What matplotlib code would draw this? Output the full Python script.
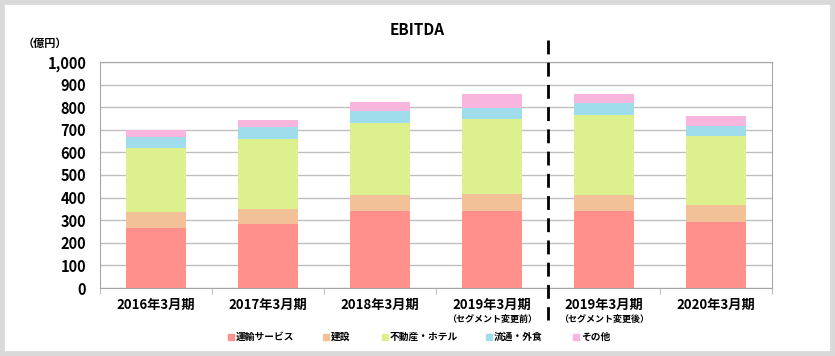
import matplotlib
matplotlib.use("Agg")
import matplotlib.pyplot as plt
from matplotlib.patches import Rectangle
import numpy as np

plt.rcParams['font.family'] = ['Noto Sans CJK JP', 'DejaVu Sans']

categories = ["2016年3月期", "2017年3月期", "2018年3月期", "2019年3月期", "2019年3月期", "2020年3月期"]
sublabels = ["", "", "", "（セグメント変更前）", "（セグメント変更後）", ""]
series_names = ["運輸サービス", "建設", "不動産・ホテル", "流通・外食", "その他"]
transport = [265, 283, 341, 341, 341, 292]
construction = [71, 67, 70, 75, 70, 75]
realestate = [283, 309, 319, 332, 354, 307]
retail = [48, 52, 52, 50, 54, 43]
other = [32, 32, 41, 60, 39, 44]
yticks = [0, 100, 200, 300, 400, 500, 600, 700, 800, 900, 1000]
ytick_labels = ["0", "100", "200", "300", "400", "500", "600", "700", "800", "900", "1,000"]

colors = ["#FF908B", "#F3C198", "#DDF08E", "#9FDDEC", "#F8B6DF"]
series = [transport, construction, realestate, retail, other]

W, H = 835, 356
fig = plt.figure(figsize=(W / 100, H / 100), dpi=100)
fig.patch.set_facecolor("white")
fig.patches.append(Rectangle((0, 0), 1, 1, transform=fig.transFigure,
                             fill=False, edgecolor="#D9D9D9", linewidth=7, zorder=0))

ax = fig.add_axes([0.1198, 0.191, 0.8048, 0.635])
x = np.arange(len(categories))
bottom = np.zeros(len(categories))
for vals, c, name in zip(series, colors, series_names):
    ax.bar(x, vals, bottom=bottom, width=0.53, color=c, label=name, zorder=3,
           edgecolor="none")
    bottom += np.array(vals)

ax.set_xlim(-0.5, len(categories) - 0.5)
ax.set_ylim(0, 1000)
ax.set_yticks(yticks)
ax.set_yticklabels(ytick_labels, fontsize=10.5, fontweight="bold")
ax.yaxis.grid(True, color="#BFBFBF", linewidth=1, zorder=0)
ax.set_axisbelow(True)
for s in ax.spines.values():
    s.set_color("#A6A6A6")
ax.tick_params(axis="y", length=0, pad=10)
ax.set_xticks(np.arange(-0.5, len(categories) - 0.4, 1.0))
ax.set_xticklabels([])
ax.tick_params(axis="x", length=4, color="#BFBFBF", direction="out")

for i, (c, s) in enumerate(zip(categories, sublabels)):
    ax.annotate(c, xy=(i, 0), xycoords=("data", "axes fraction"), xytext=(0, -12),
                textcoords="offset points", ha="center", va="center",
                fontsize=9.5, fontweight="bold")
    if s:
        ax.annotate(s, xy=(i, 0), xycoords=("data", "axes fraction"), xytext=(0, -22.5),
                    textcoords="offset points", ha="center", va="center",
                    fontsize=6.5, fontweight="bold")

ax.plot([3.5, 3.5], [1.095, -0.14], transform=ax.get_xaxis_transform(),
        color="black", linestyle=(0, (5, 3)), linewidth=2, clip_on=False, zorder=5)

fig.text(0.5, 0.915, "EBITDA", ha="center", va="center", fontsize=11, fontweight="bold")
fig.text(0.054, 0.878, "（億円）", ha="center", va="center", fontsize=8, fontweight="bold")

# legend, placed like the original
legend_x = [231, 326, 385, 489, 576]
ly = 337
for px, c, name in zip(legend_x, colors, series_names):
    fig.patches.append(Rectangle(((px - 3) / W, 1 - (ly + 3) / H), 6 / W, 6 / H,
                                 transform=fig.transFigure, color=c))
    fig.text((px + 5) / W, 1 - ly / H, name, ha="left", va="center",
             fontsize=7, fontweight="bold")

fig.savefig("out.png", dpi=100)
